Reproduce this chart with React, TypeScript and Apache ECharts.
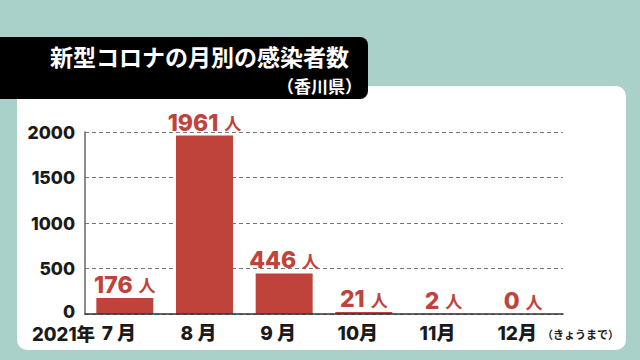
import React, { useEffect, useRef } from "react";
import * as echarts from "echarts";

const categories = ["7 月", "8 月", "9 月", "10月", "11月", "12月"];
const cases = [176, 1961, 446, 21, 2, 0];
const yTicks = [0, 500, 1000, 1500, 2000];

const TEAL = "#a9d1c9";
const RED = "#bf433a";
const FONT = "Inter, 'Noto Sans CJK JP', sans-serif";
const JP = "'Noto Sans CJK JP', sans-serif";
const W = 800;

export default function App() {
  const ref = useRef<HTMLDivElement>(null);
  useEffect(() => {
    document.body.style.margin = "0";
    const chart = echarts.init(ref.current!, null, { renderer: "svg" });
    chart.setOption({
      animation: false,
      backgroundColor: TEAL,
      graphic: [
        {
          type: "rect",
          z: 0,
          shape: { x: 17, y: 86, width: 609, height: 264, r: 10 },
          style: { fill: "#ffffff" },
        },
        {
          type: "rect",
          z: 1,
          shape: { x: 0, y: 37, width: 368, height: 62, r: [0, 8, 8, 0] },
          style: { fill: "#000000" },
        },
        {
          type: "text",
          z: 2,
          x: 349,
          y: 56,
          style: {
            text: "新型コロナの月別の感染者数",
            fill: "#ffffff",
            font: `bold 23px ${JP}`,
            lineHeight: 22,
            textAlign: "right",
            textVerticalAlign: "middle",
          },
        },
        {
          type: "text",
          z: 2,
          x: 362,
          y: 85,
          style: {
            text: "（香川県）",
            fill: "#ffffff",
            font: `bold 17px ${JP}`,
            lineHeight: 16,
            textAlign: "right",
            textVerticalAlign: "middle",
          },
        },
        {
          type: "text",
          z: 2,
          x: 32,
          y: 334,
          style: {
            text: "2021年",
            fill: "#1a1a1a",
            font: `${W} 18.5px ${FONT}`,
            lineHeight: 17,
            textAlign: "left",
            textVerticalAlign: "middle",
          },
        },
        {
          type: "text",
          z: 2,
          x: 542,
          y: 334,
          style: {
            text: "（きょうまで）",
            fill: "#1a1a1a",
            font: `bold 11px ${JP}`,
            textAlign: "left",
            textVerticalAlign: "middle",
          },
        },
      ],
      grid: { left: 85, right: 77, top: 132, bottom: 46 },
      xAxis: {
        type: "category",
        data: categories,
        axisLine: { lineStyle: { color: "#333333", width: 1.5 } },
        axisTick: { inside: true, length: 4, lineStyle: { color: "#333333" } },
        axisLabel: {
          color: "#1a1a1a",
          fontWeight: W,
          fontSize: 19,
          fontFamily: FONT,
          lineHeight: 17,
          margin: 11,
          padding: [0, 12, 0, 0],
        },
        z: 3,
      },
      yAxis: {
        type: "value",
        min: 0,
        max: 2000,
        interval: 500,
        axisLine: { show: true, lineStyle: { color: "#666666", width: 1.5 } },
        axisTick: { show: false },
        axisLabel: {
          color: "#1a1a1a",
          fontWeight: W,
          fontSize: 17.5,
          fontFamily: FONT,
          lineHeight: 14,
          margin: 10,
          formatter: (v: number) =>
            v === 0 ? "{z|0}" : yTicks.includes(v) ? String(v) : "",
          rich: {
            z: {
              fontWeight: W,
              fontSize: 17.5,
              fontFamily: FONT,
              color: "#1a1a1a",
              lineHeight: 14,
              padding: [0, 0, 6, 0],
            },
          },
        },
        splitLine: {
          show: true,
          lineStyle: { color: "#777777", type: [4, 3], width: 1 },
        },
      },
      series: [
        {
          type: "bar",
          data: cases,
          barWidth: 57,
          itemStyle: { color: RED },
          label: {
            show: true,
            position: "top",
            distance: 3,
            formatter: "{n|{c}}{u|人}",
            rich: {
              n: {
                fontSize: 23,
                fontWeight: W,
                color: RED,
                fontFamily: FONT,
                lineHeight: 20,
              },
              u: {
                fontSize: 17,
                fontWeight: "bold",
                color: RED,
                fontFamily: JP,
                lineHeight: 20,
                padding: [0, 0, 0, 6],
              },
            },
          },
        },
      ],
    });
    return () => chart.dispose();
  }, []);
  return (
    <div
      ref={ref}
      style={{ position: "fixed", left: 0, top: 0, width: 640, height: 360 }}
    />
  );
}
